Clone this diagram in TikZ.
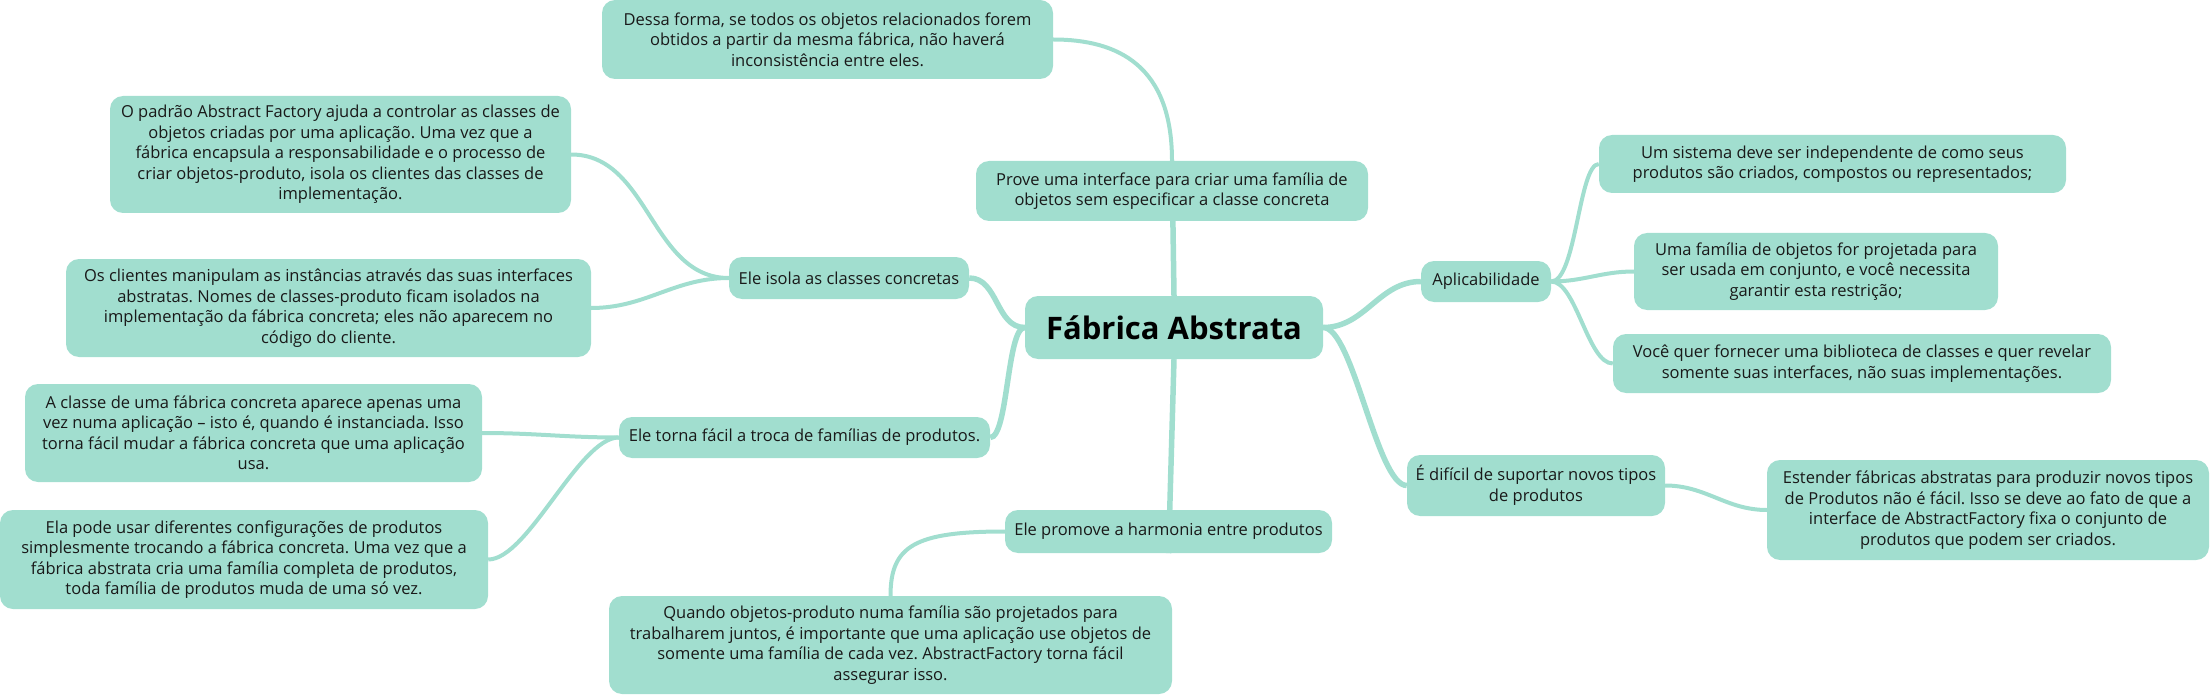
\documentclass[tikz,border=0pt]{standalone}
\usepackage{fontspec}
\setmainfont{Open Sans}
\usetikzlibrary{backgrounds}
\definecolor{mint}{RGB}{161,222,207}
\definecolor{ink}{RGB}{25,25,25}
\frenchspacing

\begin{document}
\begin{tikzpicture}[x=1pt, y=-1pt,
    topic/.style={rectangle, rounded corners=13pt, fill=mint, text=ink, align=center,
        inner sep=2pt, font=\fontsize{16.5}{20.5}\selectfont},
    boxsize/.style 2 args={minimum width=#1pt, minimum height=#2pt},
    branch/.style={draw=mint, line width=5.5pt},
    twig/.style={draw=mint, line width=4pt}]
    \useasboundingbox (0,0) rectangle (2211,695);

    % Main topic
    \node [topic, boxsize={298}{63}, text=black, font=\fontsize{31}{36}\selectfont\bfseries] (root) at (1174,327.5) {Fábrica Abstrata};

    % First level
    \node [topic, boxsize={392}{60}] (prove) at (1172,191) {Prove uma interface para criar uma família de\\objetos sem especificar a classe concreta};
    \node [topic, boxsize={240}{42}] (isola) at (849,278) {Ele isola as classes concretas};
    \node [topic, boxsize={371}{41}] (torna) at (804.5,437.5) {Ele torna fácil a troca de famílias de produtos.};
    \node [topic, boxsize={327}{43}] (harmonia) at (1168.5,531.5) {Ele promove a harmonia entre produtos};
    \node [topic, boxsize={130}{41}] (aplic) at (1486,281.5) {Aplicabilidade};
    \node [topic, boxsize={258}{61}] (dificil) at (1536,485.5) {É difícil de suportar novos tipos\\de produtos};

    % Second level
    \node [topic, boxsize={451}{79}] (mesma) at (827.5,39.5) {Dessa forma, se todos os objetos relacionados forem\\obtidos a partir da mesma fábrica, não haverá\\inconsistência entre eles.};
    \node [topic, boxsize={461}{117}] (padrao) at (340.5,154.5) {O padrão Abstract Factory ajuda a controlar as classes de\\objetos criadas por uma aplicação. Uma vez que a\\fábrica encapsula a responsabilidade e o processo de\\criar objetos-produto, isola os clientes das classes de\\implementação.};
    \node [topic, boxsize={525}{98}] (clientes) at (328.5,308) {Os clientes manipulam as instâncias através das suas interfaces\\abstratas. Nomes de classes-produto ficam isolados na\\implementação da fábrica concreta; eles não aparecem no\\código do cliente.};
    \node [topic, boxsize={457}{98}] (classe) at (253.5,433) {A classe de uma fábrica concreta aparece apenas uma\\vez numa aplicação – isto é, quando é instanciada. Isso\\torna fácil mudar a fábrica concreta que uma aplicação\\usa.};
    \node [topic, boxsize={488}{99}] (config) at (244,559.5) {Ela pode usar diferentes configurações de produtos\\simplesmente trocando a fábrica concreta. Uma vez que a\\fábrica abstrata cria uma família completa de produtos,\\toda família de produtos muda de uma só vez.};
    \node [topic, boxsize={563}{98}] (juntos) at (890.5,645) {Quando objetos-produto numa família são projetados para\\trabalharem juntos, é importante que uma aplicação use objetos de\\somente uma família de cada vez. AbstractFactory torna fácil\\assegurar isso.};
    \node [topic, boxsize={467}{58}] (sistema) at (1832.5,164) {Um sistema deve ser independente de como seus\\produtos são criados, compostos ou representados;};
    \node [topic, boxsize={364}{77}] (familia) at (1816,271.5) {Uma família de objetos for projetada para\\ser usada em conjunto, e você necessita\\garantir esta restrição;};
    \node [topic, boxsize={498}{59}] (biblio) at (1862,363.5) {Você quer fornecer uma biblioteca de classes e quer revelar\\somente suas interfaces, não suas implementações.};
    \node [topic, boxsize={442}{100}] (estender) at (1988,510) {Estender fábricas abstratas para produzir novos tipos\\de Produtos não é fácil. Isso se deve ao fato de que a\\interface de AbstractFactory fixa o conjunto de\\produtos que podem ser criados.};

    % Connectors
    \begin{scope}[on background layer]
        \draw [branch] (root.north) -- (prove.north);
        \draw [branch] (root.south) -- (harmonia.south);
        \draw [branch] (root.west) to[out=180, in=0] (isola.east);
        \draw [branch] (root.west) .. controls +(-18,0) and +(18,0) .. (torna.east);
        \draw [branch] (root.east) to[out=0, in=180] (aplic.west);
        \draw [branch] (root.east) .. controls +(30,0) and +(-30,0) .. (dificil.west);

        \draw [twig] (prove.north) .. controls +(0,-95) and +(65,0) .. (mesma.east);
        \draw [twig] (isola.west) to[out=180, in=0] (padrao.east);
        \draw [twig] (isola.west) to[out=180, in=0] (clientes.east);
        \draw [twig] (torna.west) to[out=180, in=0] (classe.east);
        \draw [twig] (torna.west) .. controls +(-40,0) and +(40,0) .. (config.east);
        \draw [twig] (harmonia.west) .. controls +(-90,0) and +(0,-50) .. (juntos.north);
        \draw [twig] (aplic.east) .. controls +(25,0) and +(-20,0) .. (sistema.west);
        \draw [twig] (aplic.east) to[out=0, in=180] (familia.west);
        \draw [twig] (aplic.east) .. controls +(25,0) and +(-25,0) .. (biblio.west);
        \draw [twig] (dificil.east) to[out=0, in=180] (estender.west);
    \end{scope}
\end{tikzpicture}
\end{document}
